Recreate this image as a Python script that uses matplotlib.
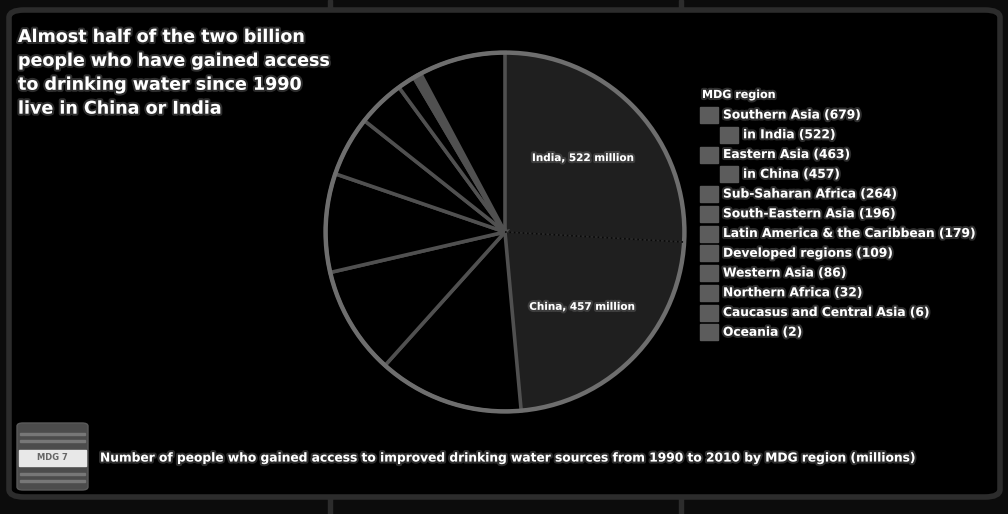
import matplotlib
matplotlib.use("Agg")
import matplotlib.pyplot as plt
import matplotlib.patheffects as pe
from matplotlib.patches import FancyBboxPatch, Rectangle, Circle
import numpy as np

# --- data (millions of people, 1990-2010) ---
title = ("Almost half of the two billion\npeople who have gained access\n"
         "to drinking water since 1990\nlive in China or India")
subtitle = ("Number of people who gained access to improved drinking water "
            "sources from 1990 to 2010 by MDG region (millions)")

slice_names = ["India", "China", "Sub-Saharan Africa", "South-Eastern Asia",
               "Latin America & the Caribbean", "Developed regions", "Western Asia",
               "Northern Africa", "Caucasus and Central Asia", "Oceania",
               "Rest of Eastern Asia", "Rest of Southern Asia"]
slice_values = [522, 457, 264, 196, 179, 109, 86, 32, 6, 2, 6, 157]
slice_colors = ["#1f1f1f", "#1f1f1f"] + ["#000000"] * 10

legend_title = "MDG region"
legend_labels = ["Southern Asia", "in India", "Eastern Asia", "in China",
                 "Sub-Saharan Africa", "South-Eastern Asia",
                 "Latin America & the Caribbean", "Developed regions",
                 "Western Asia", "Northern Africa", "Caucasus and Central Asia",
                 "Oceania"]
legend_values = [679, 522, 463, 457, 264, 196, 179, 109, 86, 32, 6, 2]
legend_levels = [0, 1, 0, 1, 0, 0, 0, 0, 0, 0, 0, 0]

W, H = 1008, 514
fig = plt.figure(figsize=(W / 100, H / 100), dpi=100, facecolor="#0c0c0c")

def fx(px):
    return px / W

def fy(py):
    return 1 - py / H

glow = [pe.withStroke(linewidth=3, foreground="#666666", alpha=0.45)]

# frame of the tile (kept behind the pie axes)
frame = FancyBboxPatch((fx(9), fy(497)), fx(991), (497 - 10) / H,
                       boxstyle="round,pad=0,rounding_size=0.015",
                       transform=fig.transFigure, facecolor="#000000",
                       edgecolor="#2c2c2c", linewidth=4, zorder=-10)
fig.patches.append(frame)
for xp in (330, 681):
    fig.patches.append(Rectangle((fx(xp - 2), fy(8)), 4 / W, 8 / H,
                                 transform=fig.transFigure, color="#2c2c2c", zorder=-11))
    fig.patches.append(Rectangle((fx(xp - 2), fy(514)), 4 / W, 16 / H,
                                 transform=fig.transFigure, color="#2c2c2c", zorder=-11))

# title
fig.text(fx(18), fy(28), title, ha="left", va="top", color="white",
         fontsize=12.6, fontweight="bold", linespacing=1.42, path_effects=glow)

# pie
ax = fig.add_axes([fx(322), fy(415), 366 / W, 366 / H])
ax.set_facecolor("none")
wedges, texts = ax.pie(slice_values, colors=slice_colors, startangle=90,
                       counterclock=False, radius=1,
                       labels=[f"{slice_names[0]}, {slice_values[0]} million",
                               f"{slice_names[1]}, {slice_values[1]} million"] + [""] * 10,
                       labeldistance=0.6,
                       wedgeprops=dict(edgecolor="#505050", linewidth=2.6),
                       textprops=dict(color="white", fontsize=7.5, fontweight="bold",
                                      ha="center", path_effects=glow))
for w in wedges[:2]:
    w.set_edgecolor("#2a2a2a")
    w.set_linewidth(1)
ax.add_patch(Circle((0, 0), 1, fill=False, edgecolor="#6e6e6e", linewidth=3.2))
ang = np.deg2rad(90 - 360 * slice_values[0] / sum(slice_values))
ax.plot([0, np.cos(ang)], [0, np.sin(ang)], color="#080808", linestyle=":",
        linewidth=1.2)
ax.set_xlim(-1.02, 1.02)
ax.set_ylim(-1.02, 1.02)
ax.axis("off")

# legend
fig.text(fx(702), fy(95), legend_title, ha="left", va="center", color="white",
         fontsize=8, fontweight="bold", path_effects=glow)
row_y = 115
for lab, val, lev in zip(legend_labels, legend_values, legend_levels):
    x0 = 700 + 20 * lev
    fig.patches.append(Rectangle((fx(x0), fy(row_y + 8)), 18 / W, 16 / H,
                                 transform=fig.transFigure, color="#5c5c5c"))
    fig.text(fx(x0 + 23), fy(row_y), f"{lab} ({val})", ha="left", va="center",
             color="white", fontsize=8.8, fontweight="bold", path_effects=glow)
    row_y += 19.75

# bottom icon
icon = FancyBboxPatch((fx(17), fy(490)), 71 / W, 67 / H,
                      boxstyle="round,pad=0,rounding_size=0.006",
                      transform=fig.transFigure, facecolor="#4c4c4c",
                      edgecolor="#5a5a5a", linewidth=1)
fig.patches.append(icon)
for yp in (434, 441, 474, 481):
    fig.patches.append(Rectangle((fx(20), fy(yp + 1)), 65 / W, 2 / H,
                                 transform=fig.transFigure, color="#777777"))
fig.patches.append(Rectangle((fx(19), fy(466)), 67 / W, 16 / H,
                             transform=fig.transFigure, color="#e8e8e8"))
fig.text(fx(52), fy(458), "MDG 7", ha="center", va="center", color="#666666",
         fontsize=6, fontweight="bold")

# subtitle
fig.text(fx(100), fy(458), subtitle, ha="left", va="center", color="white",
         fontsize=8.8, fontweight="bold", path_effects=glow)

fig.savefig("out.png", dpi=100, facecolor=fig.get_facecolor())
